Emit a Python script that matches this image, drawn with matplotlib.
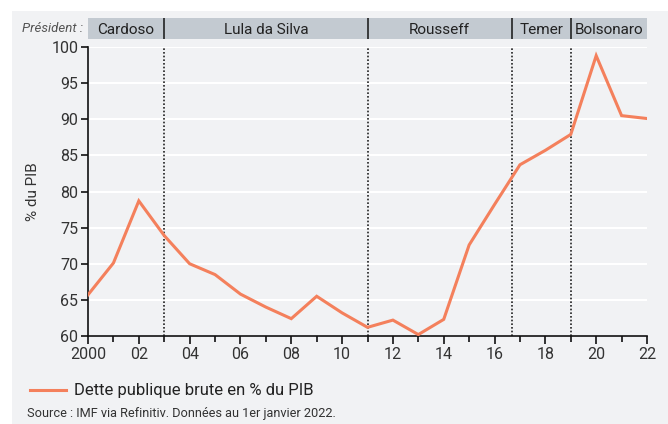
import numpy as np
import matplotlib.pyplot as plt
from matplotlib.patches import Rectangle

plt.rcParams['font.family'] = ['Liberation Sans Narrow', 'Roboto', 'DejaVu Sans']

# données
annees = [2000, 2001, 2002, 2003, 2004, 2005, 2006, 2007, 2008, 2009, 2010, 2011,
          2012, 2013, 2014, 2015, 2016, 2017, 2018, 2019, 2020, 2021, 2022]
dette = [65.7, 70.1, 78.7, 73.9, 70.0, 68.5, 65.8, 64.0, 62.4, 65.5, 63.2, 61.2,
         62.2, 60.2, 62.3, 72.6, 78.2, 83.7, 85.7, 87.9, 98.8, 90.5, 90.1]

presidents = ['Cardoso', 'Lula da Silva', 'Rousseff', 'Temer', 'Bolsonaro']
debut_mandat = [2000, 2003, 2011, 2016.67, 2019]
fin_mandat = [2003, 2011, 2016.67, 2019, 2022]

fond = '#f1f2f4'
bande = '#c3cad1'
orange = '#f4805c'
texte = '#333333'

fig = plt.figure(figsize=(6.68, 4.24), dpi=100)
# cadre gris (bord blanc en haut et à gauche)
fig.patches.append(Rectangle((12/668, 0), 1, 1 - 11/424, transform=fig.transFigure,
                             facecolor=fond, edgecolor='none', zorder=-10))

L, R = 88/668, 647/668
ax = fig.add_axes([L, 1 - 336/424, R - L, (336 - 47)/424])
ax.set_facecolor(fond)
ax.plot(annees, dette, color=orange, lw=2.2, zorder=3, solid_joinstyle='miter')

for x in debut_mandat[1:]:
    ax.axvline(x, color='#222222', lw=1.2, ls=(0, (1, 1.2)), zorder=2)

ax.set_xlim(2000, 2022)
ax.set_ylim(60, 100)
ax.set_yticks(np.arange(60, 101, 5))
ax.grid(axis='y', color='white', lw=1.5, zorder=0)
ax.set_axisbelow(True)
ax.set_xticks(range(2000, 2023, 2))
ax.set_xticklabels(['2000'] + ['%02d' % (a % 100) for a in range(2002, 2023, 2)])
ax.set_xticks(range(2001, 2023, 2), minor=True)
ax.tick_params(axis='x', which='major', length=6, width=1.2, colors='#111111',
               labelcolor=texte, labelsize=11.5, pad=2)
ax.tick_params(axis='x', which='minor', length=4, width=1.2, colors='#111111')
ax.tick_params(axis='y', length=5, width=1.2, colors='#111111',
               labelcolor=texte, labelsize=11.5, pad=2)
for s in ['top', 'right']:
    ax.spines[s].set_visible(False)
for s in ['left', 'bottom']:
    ax.spines[s].set_color('#111111')
    ax.spines[s].set_linewidth(1.2)
ax.set_ylabel('% du PIB', color=texte, fontsize=11, labelpad=8)

# bande des présidents
bx = fig.add_axes([L, 1 - 39/424, R - L, 21/424])
bx.set_xlim(2000, 2022)
bx.set_ylim(0, 1)
bx.axis('off')
bx.add_patch(Rectangle((2000, 0), 22, 1, facecolor=bande, edgecolor='none'))
for nom, d, f in zip(presidents, debut_mandat, fin_mandat):
    bx.text((d + f) / 2, 0.45, nom, ha='center', va='center', fontsize=11, color='#222222')
for x in debut_mandat[1:]:
    bx.plot([x, x], [0.0, 1.0], color='#222222', lw=1.2)
fig.text(83/668, 1 - 28/424, 'Président :', ha='right', va='center', fontsize=9.5,
         style='italic', color='#555555')

# légende et source
fig.add_artist(plt.Line2D([30/668, 66/668], [1 - 390/424] * 2, color=orange, lw=2.2,
                          transform=fig.transFigure))
fig.text(74/668, 1 - 390/424, 'Dette publique brute en % du PIB', va='center',
         fontsize=12, color='#222222')
fig.text(27/668, 1 - 413/424, 'Source : IMF via Refinitiv. Données au 1er janvier 2022.',
         va='center', fontsize=9.2, color='#333333')

fig.savefig('out.png', dpi=100, facecolor='white')
